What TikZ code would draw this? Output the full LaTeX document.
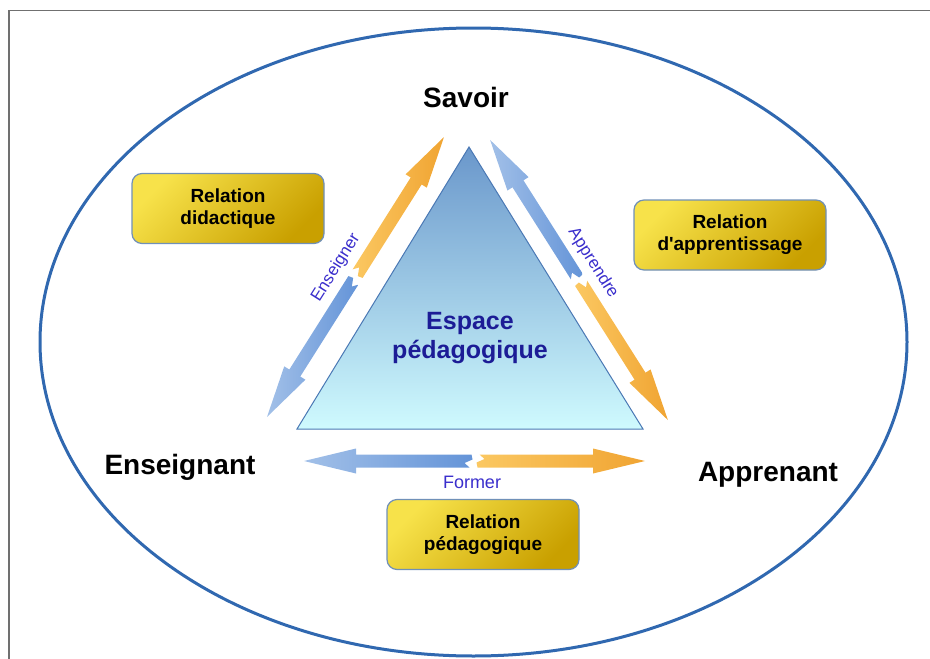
\documentclass[tikz,border=0pt]{standalone}
\usepackage{fontspec}
\setmainfont{Liberation Sans}[Ligatures=TeXOff]
\usetikzlibrary{positioning}

\definecolor{framegrey}{HTML}{707070}
\definecolor{ringblue}{HTML}{3068B0}
\definecolor{triTop}{HTML}{6A97CB}
\definecolor{triBot}{HTML}{CFFAFE}
\definecolor{triEdge}{HTML}{4A78B4}
\definecolor{goldLight}{HTML}{F7E24A}
\definecolor{goldDark}{HTML}{C9A000}
\definecolor{boxEdge}{HTML}{7090B8}
\definecolor{labelNavy}{HTML}{1C1C96}
\definecolor{verbBlue}{HTML}{3A2ECC}
\definecolor{arrBlueL}{HTML}{A2C0E8}
\definecolor{arrBlueD}{HTML}{6494D8}
\definecolor{arrOrgL}{HTML}{FBC862}
\definecolor{arrOrgD}{HTML}{F0A432}

\tikzset{
  corner/.style={font=\bfseries\fontsize{28}{32}\selectfont},
  relbox/.style={
    draw=boxEdge, line width=1.2pt, rounded corners=10pt,
    top color=goldLight, bottom color=goldDark, shading angle=45,
    minimum width=192pt, minimum height=70pt, align=center,
    font=\bfseries\fontsize{19}{22}\selectfont
  },
  verb/.style={text=verbBlue, font=\fontsize{17}{20}\selectfont},
  bluehalf/.style={left color=arrBlueL, right color=arrBlueD},
  orangehalf/.style={left color=arrOrgL, right color=arrOrgD}
}

% one half of a split double arrow, drawn from the break point to its tip
\newcommand{\halfarrow}[4]{%
  \begin{scope}[shift={(#1)}, rotate=#2]
    \shade[#4] (3,6.5) -- (#3-52,6.5) -- (#3-52,12.5) -- (#3,0) -- (#3-52,-12.5)
      -- (#3-52,-6.5) -- (5,-6.5) -- (10,-2) -- (2,1.5) -- cycle;
  \end{scope}}

\begin{document}
\begin{tikzpicture}[x=1pt, y=-1pt]
    \useasboundingbox (0,0) rectangle (930,659);

    % Frame and outer ellipse
    \draw[framegrey, line width=1.5pt] (9,659) -- (9,10.5) -- (930,10.5);
    \draw[ringblue, line width=3pt] (473.5,342) ellipse [x radius=433.5pt, y radius=314pt];

    % Central triangle
    \coordinate (apex) at (469,147);
    \coordinate (baseL) at (297,429);
    \coordinate (baseR) at (643,429);
    \shade[top color=triTop, bottom color=triBot, draw=triEdge, line width=1pt]
      (apex) -- (baseL) -- (baseR) -- cycle;
    \node[text=labelNavy, align=center, font=\bfseries\fontsize{25}{29}\selectfont]
      (espace) at (470,338) {Espace\\pédagogique};

    % Corner labels
    \node[corner] (savoir) at (466,97) {Savoir};
    \node[corner] (enseignant) at (180,467) {Enseignant};
    \node[corner] (apprenant) at (768,475) {Apprenant};

    % Relation boxes
    \node[relbox] (didac) at (228,208.5) {Relation\\didactique};
    \node[relbox] (apprent) at (730,235) {Relation\\d'apprentissage};
    \node[relbox] (pedago) at (483,534.5) {Relation\\pédagogique};

    % Split double arrows
    \coordinate (brkL) at (355.5,277);
    \coordinate (brkR) at (579,280);
    \coordinate (brkB) at (474.5,461);
    \halfarrow{brkL}{237.7}{165.6}{bluehalf}
    \halfarrow{brkL}{57.7}{165.6}{orangehalf}
    \halfarrow{brkR}{122.4}{165.9}{bluehalf}
    \halfarrow{brkR}{-57.6}{165.9}{orangehalf}
    \halfarrow{brkB}{180}{170.5}{bluehalf}
    \halfarrow{brkB}{0}{170.5}{orangehalf}

    % Arrow labels
    \node[verb, rotate=57.7] (enseigner) at (336,268) {Enseigner};
    \node[verb, rotate=-57.6] (apprendre) at (593,263) {Apprendre};
    \node[verb, font=\fontsize{18}{21}\selectfont] (former) at (472,482) {Former};

\end{tikzpicture}
\end{document}
